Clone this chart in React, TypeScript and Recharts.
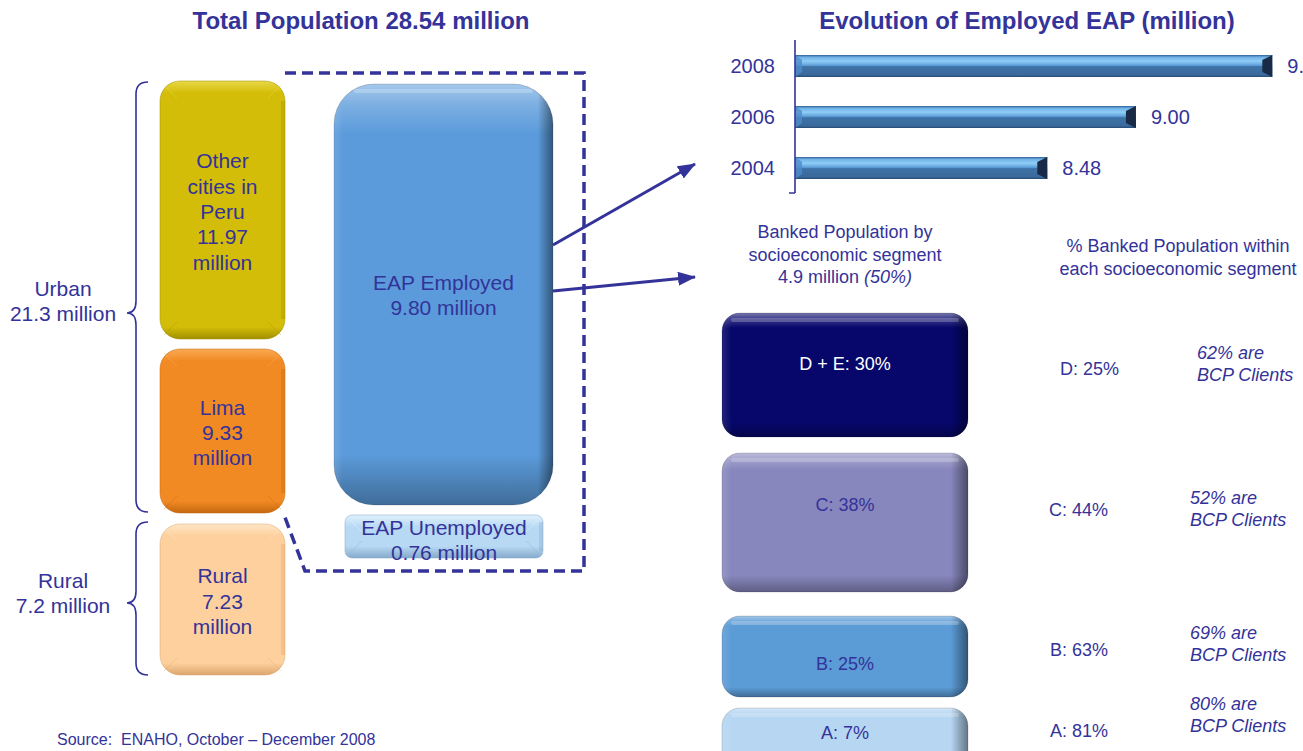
import React from 'react';
import { BarChart, Bar, XAxis, YAxis, LabelList, Customized } from 'recharts';

// ---------------- data ----------------
const evoYears = ['2008', '2006', '2004'];
const evoEmployed = [9.8, 9.0, 8.48];

const totalPopulation = 28.54;
const areaLabels = ['Other cities in Peru', 'Lima', 'Rural'];
const areaPopulation = [11.97, 9.33, 7.23];
const zoneLabels = ['Urban', 'Rural'];
const zonePopulation = [21.3, 7.2];
const eapLabels = ['EAP Employed', 'EAP Unemployed'];
const eapPopulation = [9.8, 0.76];

const bankedTotal = 4.9;
const bankedShare = 50;
const segmentLabels = ['D + E', 'C', 'B', 'A'];
const segmentShare = [30, 38, 25, 7];
const segmentLetters = ['D', 'C', 'B', 'A'];
const segmentBankedPct = [25, 44, 63, 81];
const bcpClientPct = [62, 52, 69, 80];

const evoData = evoYears.map((year, i) => ({ year, eap: evoEmployed[i] }));

// ---------------- layout / style ----------------
const C = '#333399';
const FONT = "'Liberation Sans', Arial, Helvetica, sans-serif";
const W = 1303;
const H = 751;

const AREA_BOXES = [
  { x: 160, y: 81, w: 125, h: 258, base: '#D3BD08', light: '#E8D848', dark: '#A28F00' },
  { x: 160, y: 349, w: 125, h: 164, base: '#F28A24', light: '#FAAA55', dark: '#C4680E' },
  { x: 160, y: 524, w: 125, h: 151, base: '#FDD09D', light: '#FFE6C8', dark: '#DDA56E' },
];
const ZONES = [
  { y1: 288, top: 82, tip: 313, bottom: 512 },
  { y1: 580, top: 522, tip: 603, bottom: 675 },
];
const EAP_EMP = { x: 334, y: 84, w: 219, h: 421, r: 40, fill: '#5B9BDB' };
const EAP_UNEMP = { x: 345, y: 515, w: 198, h: 43, r: 7, base: '#B8D9F4', light: '#E0F0FD', dark: '#86AACB' };
const SEG_BOXES = [
  { y: 313, h: 124, fill: '#06066B', text: '#FFFFFF', dy: 51 },
  { y: 453, h: 139, fill: '#8787BE', text: C, dy: 52 },
  { y: 616, h: 81, fill: '#5B9BD6', text: C, dy: 48 },
  { y: 708, h: 62, fill: '#B6D6F2', text: C, dy: 25 },
];
const SEG_X = 722;
const SEG_W = 246;
const RIGHT_TEXT = [
  { x: 1060, y: 369, ix: 1197, iy: 353 },
  { x: 1049, y: 510, ix: 1190, iy: 498 },
  { x: 1050, y: 650, ix: 1190, iy: 633 },
  { x: 1050, y: 731, ix: 1190, iy: 704 },
];

const wrapWords = (s: string, max: number) => {
  const words = s.split(' ');
  const lines: string[] = [];
  let cur = '';
  words.forEach((w) => {
    const t = cur ? cur + ' ' + w : w;
    if (t.length > max && cur) {
      lines.push(cur);
      cur = w;
    } else cur = t;
  });
  if (cur) lines.push(cur);
  return lines;
};

const T = ({ x, y, children, size = 21, anchor = 'middle', fill = C, italic = false, bold = false }: any) => (
  <text
    x={x}
    y={y}
    fontSize={size}
    textAnchor={anchor}
    dominantBaseline="central"
    fill={fill}
    fontStyle={italic ? 'italic' : 'normal'}
    fontWeight={bold ? 'bold' : 'normal'}
    fontFamily={FONT}
    style={{ whiteSpace: 'pre' }}
  >
    {children}
  </text>
);

const AngleBox = ({ x, y, w, h, r, base, light, dark, id }: any) => {
  const i = 11;
  return (
    <g>
      <defs>
        <linearGradient id={`ag-${id}`} x1="0" y1="0" x2="0" y2="1">
          <stop offset="0" stopColor={light} />
          <stop offset={12 / h} stopColor={base} />
          <stop offset={1 - 12 / h} stopColor={base} />
          <stop offset="1" stopColor={dark} />
        </linearGradient>
      </defs>
      <rect x={x} y={y} width={w} height={h} rx={r} fill={`url(#ag-${id})`} stroke={dark} strokeOpacity={0.5} />
      <rect x={x + i} y={y + i} width={w - 2 * i} height={h - 2 * i} rx={Math.max(r - 10, 3)} fill={base} />
      <g stroke={light} strokeOpacity={0.45} strokeWidth={1}>
        <line x1={x + 4} y1={y + 4} x2={x + i + 6} y2={y + i + 6} />
        <line x1={x + w - 4} y1={y + 4} x2={x + w - i - 6} y2={y + i + 6} />
      </g>
      <g stroke={dark} strokeOpacity={0.35} strokeWidth={1}>
        <line x1={x + 4} y1={y + h - 4} x2={x + i + 6} y2={y + h - i - 6} />
        <line x1={x + w - 4} y1={y + h - 4} x2={x + w - i - 6} y2={y + h - i - 6} />
      </g>
      <rect x={x + w - 4} y={y + r} width={4} height={h - 2 * r} fill={dark} opacity={0.35} />
    </g>
  );
};

const SoftBox = ({ x, y, w, h, r, fill }: any) => (
  <g>
    <rect x={x} y={y} width={w} height={h} rx={r} fill={fill} />
    <rect x={x} y={y} width={w} height={h} rx={r} fill="url(#softV)" />
    <rect x={x} y={y} width={w} height={h} rx={r} fill="url(#softH)" />
    <rect x={x + r * 0.5} y={y + 5} width={w - r} height={4} rx={2} fill="#FFFFFF" opacity={0.22} />
    <rect x={x} y={y} width={w} height={h} rx={r} fill="none" stroke="#000" strokeOpacity={0.15} />
  </g>
);

const brace = (top: number, tip: number, bottom: number) => {
  const xr = 148, xm = 136, xt = 127, k = 12;
  return `M${xr},${top} Q${xm},${top} ${xm},${top + k} L${xm},${tip - k} Q${xm},${tip} ${xt},${tip} Q${xm},${tip} ${xm},${tip + k} L${xm},${bottom - k} Q${xm},${bottom} ${xr},${bottom}`;
};

const EvoBar = (props: any) => {
  const { x, y, width, height } = props;
  if (width <= 0) return null;
  return (
    <g>
      <rect x={x} y={y} width={width} height={height} fill="url(#evoGrad)" />
      <polygon
        points={`${x},${y} ${x + 7},${y + 5} ${x + 7},${y + height - 5} ${x},${y + height}`}
        fill="#4E8CC8"
        opacity={0.8}
      />
      <polygon
        points={`${x + width - 10},${y + 5} ${x + width},${y} ${x + width},${y + height} ${x + width - 10},${y + height - 5}`}
        fill="#182A45"
      />
    </g>
  );
};

const Deco = () => (
  <g>
    <defs>
      <linearGradient id="evoGrad" x1="0" y1="0" x2="0" y2="1">
        <stop offset="0" stopColor="#2E5F94" />
        <stop offset="0.1" stopColor="#6FB0E6" />
        <stop offset="0.28" stopColor="#90CEF7" />
        <stop offset="0.47" stopColor="#5E9FD9" />
        <stop offset="0.53" stopColor="#3E72A6" />
        <stop offset="0.9" stopColor="#3A6A9C" />
        <stop offset="1" stopColor="#264B75" />
      </linearGradient>
      <linearGradient id="softV" x1="0" y1="0" x2="0" y2="1">
        <stop offset="0" stopColor="#FFFFFF" stopOpacity={0.45} />
        <stop offset="0.05" stopColor="#FFFFFF" stopOpacity={0.2} />
        <stop offset="0.12" stopColor="#FFFFFF" stopOpacity={0} />
        <stop offset="0.88" stopColor="#000000" stopOpacity={0} />
        <stop offset="1" stopColor="#000000" stopOpacity={0.3} />
      </linearGradient>
      <linearGradient id="softH" x1="0" y1="0" x2="1" y2="0">
        <stop offset="0" stopColor="#FFFFFF" stopOpacity={0.12} />
        <stop offset="0.04" stopColor="#FFFFFF" stopOpacity={0} />
        <stop offset="0.93" stopColor="#000000" stopOpacity={0} />
        <stop offset="1" stopColor="#000000" stopOpacity={0.45} />
      </linearGradient>
      <marker id="arrowHead" markerWidth="18" markerHeight="14" refX="17" refY="7" orient="auto" markerUnits="userSpaceOnUse">
        <path d="M0,0 L18,7 L0,14 Z" fill={C} />
      </marker>
    </defs>

    {/* titles */}
    <T x={361} y={20} size={24} bold>{`Total Population ${totalPopulation.toFixed(2)} million`}</T>
    <T x={1027} y={20} size={24} bold>Evolution of Employed EAP (million)</T>

    {/* braces and zone labels */}
    {ZONES.map((z, i) => (
      <g key={`z${i}`}>
        <path d={brace(z.top, z.tip, z.bottom)} fill="none" stroke={C} strokeWidth={1.6} />
        <T x={63} y={z.y1}>{zoneLabels[i]}</T>
        <T x={63} y={z.y1 + 25.5}>{`${zonePopulation[i]} million`}</T>
      </g>
    ))}

    {/* area boxes */}
    {AREA_BOXES.map((b, i) => {
      const lines = [...wrapWords(areaLabels[i], 9), areaPopulation[i].toFixed(2), 'million'];
      const lh = 25.4;
      const cy = b.y + b.h / 2 + 1.5;
      const y0 = cy - ((lines.length - 1) * lh) / 2;
      return (
        <g key={`a${i}`}>
          <AngleBox id={`a${i}`} x={b.x} y={b.y} w={b.w} h={b.h} r={20} base={b.base} light={b.light} dark={b.dark} />
          {lines.map((l, j) => (
            <T key={j} x={b.x + b.w / 2} y={y0 + j * lh}>{l}</T>
          ))}
        </g>
      );
    })}

    {/* EAP boxes */}
    <SoftBox x={EAP_EMP.x} y={EAP_EMP.y} w={EAP_EMP.w} h={EAP_EMP.h} r={EAP_EMP.r} fill={EAP_EMP.fill} />
    <T x={EAP_EMP.x + EAP_EMP.w / 2} y={EAP_EMP.y + EAP_EMP.h / 2 - 12}>{eapLabels[0]}</T>
    <T x={EAP_EMP.x + EAP_EMP.w / 2} y={EAP_EMP.y + EAP_EMP.h / 2 + 13}>{`${eapPopulation[0].toFixed(2)} million`}</T>

    <AngleBox id="unemp" x={EAP_UNEMP.x} y={EAP_UNEMP.y} w={EAP_UNEMP.w} h={EAP_UNEMP.h} r={EAP_UNEMP.r}
      base={EAP_UNEMP.base} light={EAP_UNEMP.light} dark={EAP_UNEMP.dark} />
    <T x={EAP_UNEMP.x + EAP_UNEMP.w / 2} y={EAP_UNEMP.y + 12}>{eapLabels[1]}</T>
    <T x={EAP_UNEMP.x + EAP_UNEMP.w / 2} y={EAP_UNEMP.y + 37}>{`${eapPopulation[1].toFixed(2)} million`}</T>

    {/* dashed outline */}
    <polyline points="285,73 584,73 584,571 305,571 283,512" fill="none" stroke={C} strokeWidth={3.5} strokeDasharray="11 6" />

    {/* arrows */}
    <line x1={553} y1={245} x2={695} y2={164} stroke={C} strokeWidth={3} markerEnd="url(#arrowHead)" />
    <line x1={553} y1={291} x2={695} y2={277} stroke={C} strokeWidth={3} markerEnd="url(#arrowHead)" />

    {/* segment headers */}
    <T x={845} y={232} size={18}>Banked Population by</T>
    <T x={845} y={255} size={18}>socioeconomic segment</T>
    <text x={845} y={277} fontSize={18} textAnchor="middle" dominantBaseline="central" fill={C} fontFamily={FONT}>
      {`${bankedTotal} million `}
      <tspan fontStyle="italic">{`(${bankedShare}%)`}</tspan>
    </text>
    <T x={1178} y={246} size={18}>% Banked Population within</T>
    <T x={1178} y={269} size={18}>each socioeconomic segment</T>

    {/* segment boxes */}
    {SEG_BOXES.map((s, i) => (
      <g key={`s${i}`}>
        <SoftBox x={SEG_X} y={s.y} w={SEG_W} h={s.h} r={18} fill={s.fill} />
        <T x={SEG_X + SEG_W / 2} y={s.y + s.dy} size={18} fill={s.text}>{`${segmentLabels[i]}: ${segmentShare[i]}%`}</T>
      </g>
    ))}

    {/* right columns */}
    {RIGHT_TEXT.map((p, i) => (
      <g key={`r${i}`}>
        <T x={p.x} y={p.y} size={18} anchor="start">{`${segmentLetters[i]}: ${segmentBankedPct[i]}%`}</T>
        <T x={p.ix} y={p.iy} size={18} anchor="start" italic>{`${bcpClientPct[i]}% are`}</T>
        <T x={p.ix} y={p.iy + 22} size={18} anchor="start" italic>BCP Clients</T>
      </g>
    ))}

    {/* source */}
    <T x={57} y={739} size={16} anchor="start">{'Source:\u00A0 ENAHO, October \u2013 December 2008'}</T>

    {/* small bottom tick of the evolution axis */}
    <line x1={789} y1={193} x2={795} y2={193} stroke={C} strokeWidth={1.5} />
  </g>
);

export default function App() {
  return (
    <div
      style={{
        position: 'absolute',
        left: 0,
        top: 0,
        width: W,
        height: H,
        overflow: 'hidden',
        background: '#FFFFFF',
        fontFamily: FONT,
      }}
    >
      <BarChart
        width={W}
        height={H}
        data={evoData}
        layout="vertical"
        margin={{ top: 40, right: 0, bottom: 558, left: 735 }}
      >
        <Customized component={Deco} />
        <XAxis type="number" domain={[7, 9.98]} allowDataOverflow hide />
        <YAxis
          type="category"
          dataKey="year"
          width={60}
          tickSize={0}
          tickMargin={20}
          tickLine={false}
          axisLine={{ stroke: C, strokeWidth: 1.6 }}
          tick={{ fill: C, fontSize: 20, fontFamily: FONT }}
        />
        <Bar dataKey="eap" barSize={22} shape={EvoBar} isAnimationActive={false}>
          <LabelList
            dataKey="eap"
            position="right"
            offset={15}
            fill={C}
            fontSize={20}
            fontFamily={FONT}
            formatter={(v: any) => Number(v).toFixed(2)}
          />
        </Bar>
      </BarChart>
    </div>
  );
}
